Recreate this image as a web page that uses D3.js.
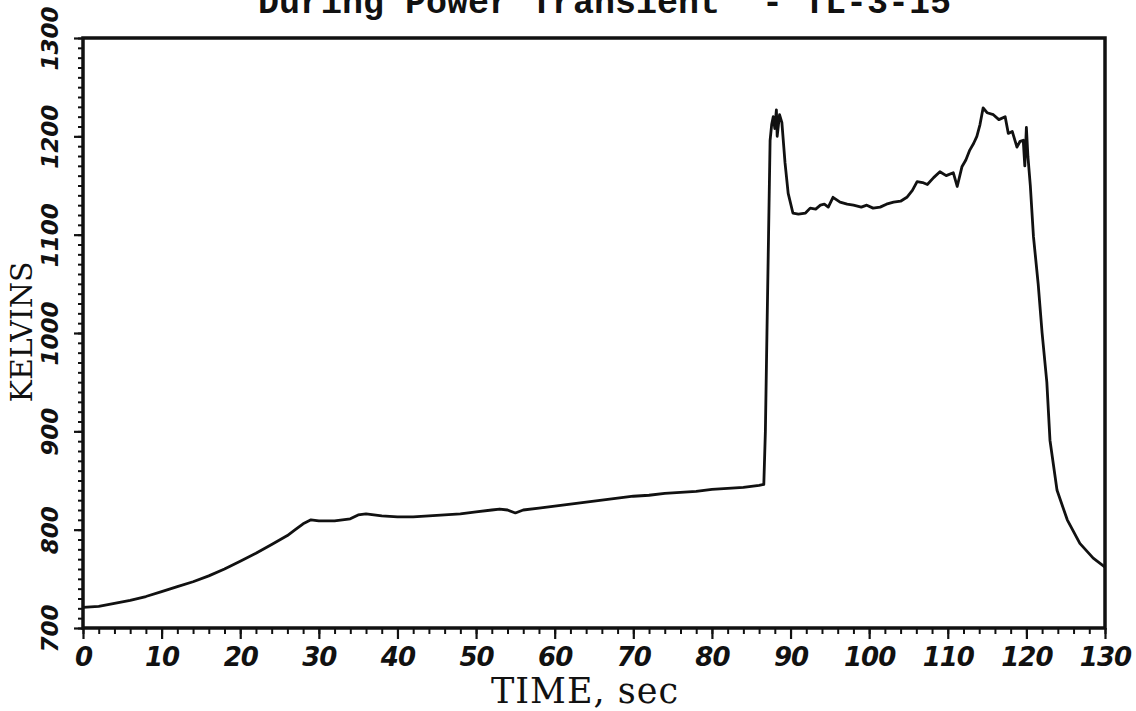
<!DOCTYPE html>
<html>
<head>
<meta charset="utf-8">
<script src="https://cdn.jsdelivr.net/npm/d3@7"></script>
<style>
  html, body { margin: 0; padding: 0; background: #fff; }
  svg { display: block; }
</style>
</head>
<body>
<svg id="chart" width="1136" height="711"></svg>
<script>
// ---- data ----
const titleText = "During Power Transient  - TL-3-15";
const xLabel = "TIME, sec";
const yLabel = "KELVINS";
const xTicks = [0, 10, 20, 30, 40, 50, 60, 70, 80, 90, 100, 110, 120, 130];
const yTicks = [700, 800, 900, 1000, 1100, 1200, 1300];
const timeSec = [0, 2, 4, 6, 8, 10, 12, 14, 16, 18, 20, 22, 24, 26, 27, 28, 29, 30, 31, 32, 33, 34, 35, 36, 37, 38, 40, 42, 44, 46, 48, 50, 52, 53, 54, 55, 56, 58, 60, 62, 64, 66, 68, 70, 72, 74, 76, 78, 80, 82, 84, 86, 86.6,
  86.8, 87.0, 87.2, 87.4, 87.6, 87.8, 88.0, 88.2, 88.3, 88.6, 88.9, 89.3, 89.7, 90.3, 91.0, 91.9, 92.5, 93.2, 93.8, 94.3, 94.8, 95.4, 96.3, 97.2, 98.0, 99.0, 99.7, 100.5, 101.4, 102.2, 103.1, 104.0, 104.8, 105.5, 106.1, 106.8, 107.4, 108.2, 109.0, 109.8, 110.7, 111.2, 111.8, 112.3, 112.8, 113.3, 113.7, 114.1, 114.5, 115.0, 115.8, 116.5, 117.3, 117.7, 118.2, 118.8, 119.2, 119.6, 119.8, 120.0, 120.2, 120.5, 120.9, 121.5, 122.0, 122.6, 123.0, 123.9, 125.2, 126.8, 128.5, 130];
const kelvin = [721, 722, 725, 728, 732, 737, 742, 747, 753, 760, 768, 776, 785, 794, 800, 806, 810, 809, 809, 809, 810, 811, 815, 816, 815, 814, 813, 813, 814, 815, 816, 818, 820, 821, 820, 817, 820, 822, 824, 826, 828, 830, 832, 834, 835, 837, 838, 839, 841, 842, 843, 845, 846,
  900, 1000, 1098, 1196, 1212, 1220, 1208, 1227, 1200, 1222, 1214, 1173, 1142, 1122, 1121, 1122, 1127, 1126, 1130, 1131, 1128, 1138, 1133, 1131, 1130, 1128, 1130, 1127, 1128, 1131, 1133, 1134, 1138, 1145, 1154, 1153, 1151, 1158, 1164, 1160, 1163, 1149, 1169, 1176, 1186, 1193, 1200, 1212, 1229, 1224, 1222, 1217, 1220, 1203, 1205, 1189, 1195, 1196, 1170, 1209, 1179, 1150, 1098, 1050, 1000, 950, 891, 840, 810, 786, 771, 762];

// ---- layout ----
const svg = d3.select("#chart");
const L = 83, R = 1105, T = 38, B = 628;
const x = d3.scaleLinear().domain([0, 130]).range([L, R]);
const y = d3.scaleLinear().domain([700, 1300]).range([B, T]);

// title (cut off at top, as in the reference)
svg.append("text")
  .attr("x", 258).attr("y", 13)
  .attr("font-family", "Liberation Mono, DejaVu Sans Mono, monospace")
  .attr("font-weight", "bold")
  .attr("font-size", 35)
  .style("white-space", "pre")
  .attr("fill", "#111")
  .text(titleText);

// x axis ticks
const xMinor = d3.range(0, 131, 2);
const xAxis = d3.axisBottom(x).tickValues(xMinor).tickSize(6).tickFormat("");
const gx = svg.append("g").attr("transform", `translate(0,${B})`).call(xAxis);
gx.select(".domain").remove();
gx.selectAll("line").attr("stroke", "#111").attr("stroke-width", 2);
const xAxisMajor = d3.axisBottom(x).tickValues(xTicks).tickSize(11).tickPadding(6).tickFormat(d3.format("d"));
const gx2 = svg.append("g").attr("transform", `translate(0,${B})`).call(xAxisMajor);
gx2.select(".domain").remove();
gx2.selectAll("line").attr("stroke", "#111").attr("stroke-width", 2.2);
gx2.selectAll("text")
  .attr("font-family", "DejaVu Sans, sans-serif")
  .attr("font-weight", "bold")
  .attr("font-style", "italic")
  .attr("font-size", 26)
  .attr("letter-spacing", -1)
  .attr("fill", "#111")
  .attr("dy", "0.82em");

// y axis ticks
const yMinor = d3.range(700, 1301, 10);
const yAxis = d3.axisLeft(y).tickValues(yMinor).tickSize(5).tickFormat("");
const gy = svg.append("g").attr("transform", `translate(${L},0)`).call(yAxis);
gy.select(".domain").remove();
gy.selectAll("line").attr("stroke", "#111").attr("stroke-width", 2);
const yAxisMajor = d3.axisLeft(y).tickValues(yTicks).tickSize(9).tickPadding(0).tickFormat(d3.format("d"));
const gy2 = svg.append("g").attr("transform", `translate(${L},0)`).call(yAxisMajor);
gy2.select(".domain").remove();
gy2.selectAll("line").attr("stroke", "#111").attr("stroke-width", 2.2);
gy2.selectAll("text")
  .attr("x", null).attr("dy", null)
  .attr("text-anchor", "middle")
  .attr("transform", "translate(-33,0) rotate(-90)")
  .attr("dy", "0.36em")
  .attr("font-family", "DejaVu Sans, sans-serif")
  .attr("font-weight", "bold")
  .attr("font-style", "italic")
  .attr("font-size", 23)
  .attr("fill", "#111");

// frame
svg.append("rect")
  .attr("x", L).attr("y", T)
  .attr("width", R - L).attr("height", B - T)
  .attr("fill", "none").attr("stroke", "#111").attr("stroke-width", 3.5);

// data line
const data = timeSec.map((t, i) => ({t, k: kelvin[i]}));
svg.append("path")
  .datum(data)
  .attr("fill", "none")
  .attr("stroke", "#111")
  .attr("stroke-width", 2.8)
  .attr("stroke-linejoin", "round")
  .attr("d", d3.line().x(d => x(d.t)).y(d => y(d.k)));

// axis titles
svg.append("text")
  .attr("x", 585).attr("y", 703)
  .attr("text-anchor", "middle")
  .attr("font-family", "DejaVu Serif, serif")
  .attr("font-size", 35)
  .attr("letter-spacing", 1)
  .attr("fill", "#111")
  .text(xLabel);

svg.append("text")
  .attr("transform", `translate(32,${332}) rotate(-90)`)
  .attr("text-anchor", "middle")
  .attr("font-family", "DejaVu Serif, serif")
  .attr("font-size", 30)
  .attr("fill", "#111")
  .text(yLabel);
</script>
</body>
</html>
